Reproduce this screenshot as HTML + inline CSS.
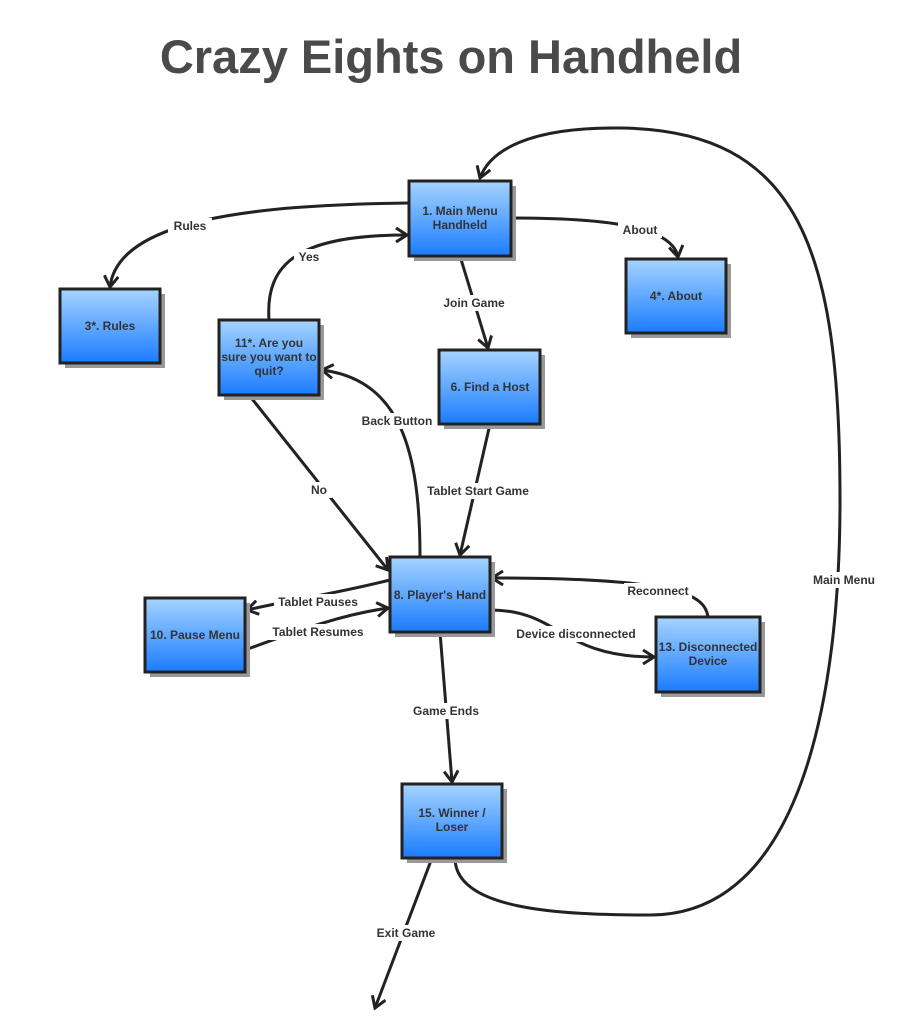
<!DOCTYPE html>
<html><head><style>
body{margin:0;background:#fff;width:902px;height:1029px;overflow:hidden;font-family:"Liberation Sans",sans-serif}
.t{font-weight:bold;font-size:12px;fill:#333}
</style></head><body>
<svg width="902" height="1029" viewBox="0 0 902 1029" xmlns="http://www.w3.org/2000/svg">
<defs>
<linearGradient id="g" x1="0" y1="0" x2="0" y2="1"><stop offset="0" stop-color="#a6d4ff"/><stop offset="1" stop-color="#1a7cff"/></linearGradient>
<marker id="a" markerWidth="16" markerHeight="16" refX="13" refY="8" orient="auto" markerUnits="userSpaceOnUse"><path d="M2,1 L13,8 L2,15" fill="none" stroke="#222" stroke-width="3"/></marker>
</defs>
<text x="451" y="73" text-anchor="middle" font-size="47" font-weight="bold" fill="#4a4a4a">Crazy Eights on Handheld</text>
<g fill="none" stroke="#222" stroke-width="3" marker-end="url(#a)">
<path d="M409,203 C250,205 118,220 110,287"/>
<path d="M511,218 C600,218 672,225 678,257"/>
<path d="M460,256 L488,348"/>
<path d="M269,320 C265,262 300,235 407,235"/>
<path d="M249,395 L388,570"/>
<path d="M420,557 C420,450 400,380 322,370"/>
<path d="M490,424 L460,555"/>
<path d="M390,580 C330,595 290,600 247,610"/>
<path d="M245,650 C300,630 340,615 388,608"/>
<path d="M490,610 C560,610 560,657 654,657"/>
<path d="M708,617 C705,595 680,578 492,578"/>
<path d="M440,632 L452,782"/>
<path d="M455,858 C455,910 560,915 650,915 C800,915 840,700 840,500 C840,250 800,130 620,128 C530,127 490,150 480,178"/>
<path d="M432,858 L375,1008"/>
</g>
<g>
<g fill="#999">
<rect x="414" y="186" width="102" height="75"/><rect x="65" y="294" width="100" height="74"/><rect x="631" y="264" width="100" height="74"/>
<rect x="224" y="325" width="100" height="75"/><rect x="444" y="355" width="101" height="74"/><rect x="395" y="562" width="100" height="75"/>
<rect x="150" y="603" width="100" height="74"/><rect x="661" y="622" width="104" height="75"/><rect x="407" y="789" width="100" height="74"/>
</g>
<g fill="url(#g)" stroke="#222" stroke-width="3">
<rect x="409" y="181" width="102" height="75"/><rect x="60" y="289" width="100" height="74"/><rect x="626" y="259" width="100" height="74"/>
<rect x="219" y="320" width="100" height="75"/><rect x="439" y="350" width="101" height="74"/><rect x="390" y="557" width="100" height="75"/>
<rect x="145" y="598" width="100" height="74"/><rect x="656" y="617" width="104" height="75"/><rect x="402" y="784" width="100" height="74"/>
</g>
</g>
<g class="t" text-anchor="middle" font-size="12" font-weight="bold" fill="#222">
<text x="460" y="215">1. Main Menu</text><text x="460" y="229">Handheld</text>
<text x="110" y="330">3*. Rules</text>
<text x="676" y="300">4*. About</text>
<text x="269" y="347">11*. Are you</text><text x="269" y="361">sure you want to</text><text x="269" y="375">quit?</text>
<text x="490" y="391">6. Find a Host</text>
<text x="440" y="599">8. Player's Hand</text>
<text x="195" y="639">10. Pause Menu</text>
<text x="708" y="651">13. Disconnected</text><text x="708" y="665">Device</text>
<text x="452" y="817">15. Winner /</text><text x="452" y="831">Loser</text>
</g>
<g font-size="12" font-weight="bold" fill="#333" text-anchor="middle">
<g fill="#fff">
<rect x="168" y="218" width="44" height="16"/><rect x="618" y="222" width="44" height="16"/><rect x="440" y="295" width="68" height="16"/>
<rect x="294" y="249" width="30" height="16"/><rect x="306" y="482" width="26" height="16"/><rect x="358" y="413" width="78" height="16"/>
<rect x="424" y="483" width="110" height="16"/><rect x="274" y="594" width="88" height="16"/><rect x="268" y="624" width="100" height="16"/>
<rect x="514" y="626" width="124" height="16"/><rect x="624" y="583" width="68" height="16"/><rect x="410" y="703" width="72" height="16"/>
<rect x="810" y="572" width="68" height="16"/><rect x="372" y="925" width="68" height="16"/>
</g>
<text x="190" y="230">Rules</text><text x="640" y="234">About</text><text x="474" y="307">Join Game</text>
<text x="309" y="261">Yes</text><text x="319" y="494">No</text><text x="397" y="425">Back Button</text>
<text x="478" y="495">Tablet Start Game</text><text x="318" y="606">Tablet Pauses</text><text x="318" y="636">Tablet Resumes</text>
<text x="576" y="638">Device disconnected</text><text x="658" y="595">Reconnect</text><text x="446" y="715">Game Ends</text>
<text x="844" y="584">Main Menu</text><text x="406" y="937">Exit Game</text>
</g>
</svg>
</body></html>
